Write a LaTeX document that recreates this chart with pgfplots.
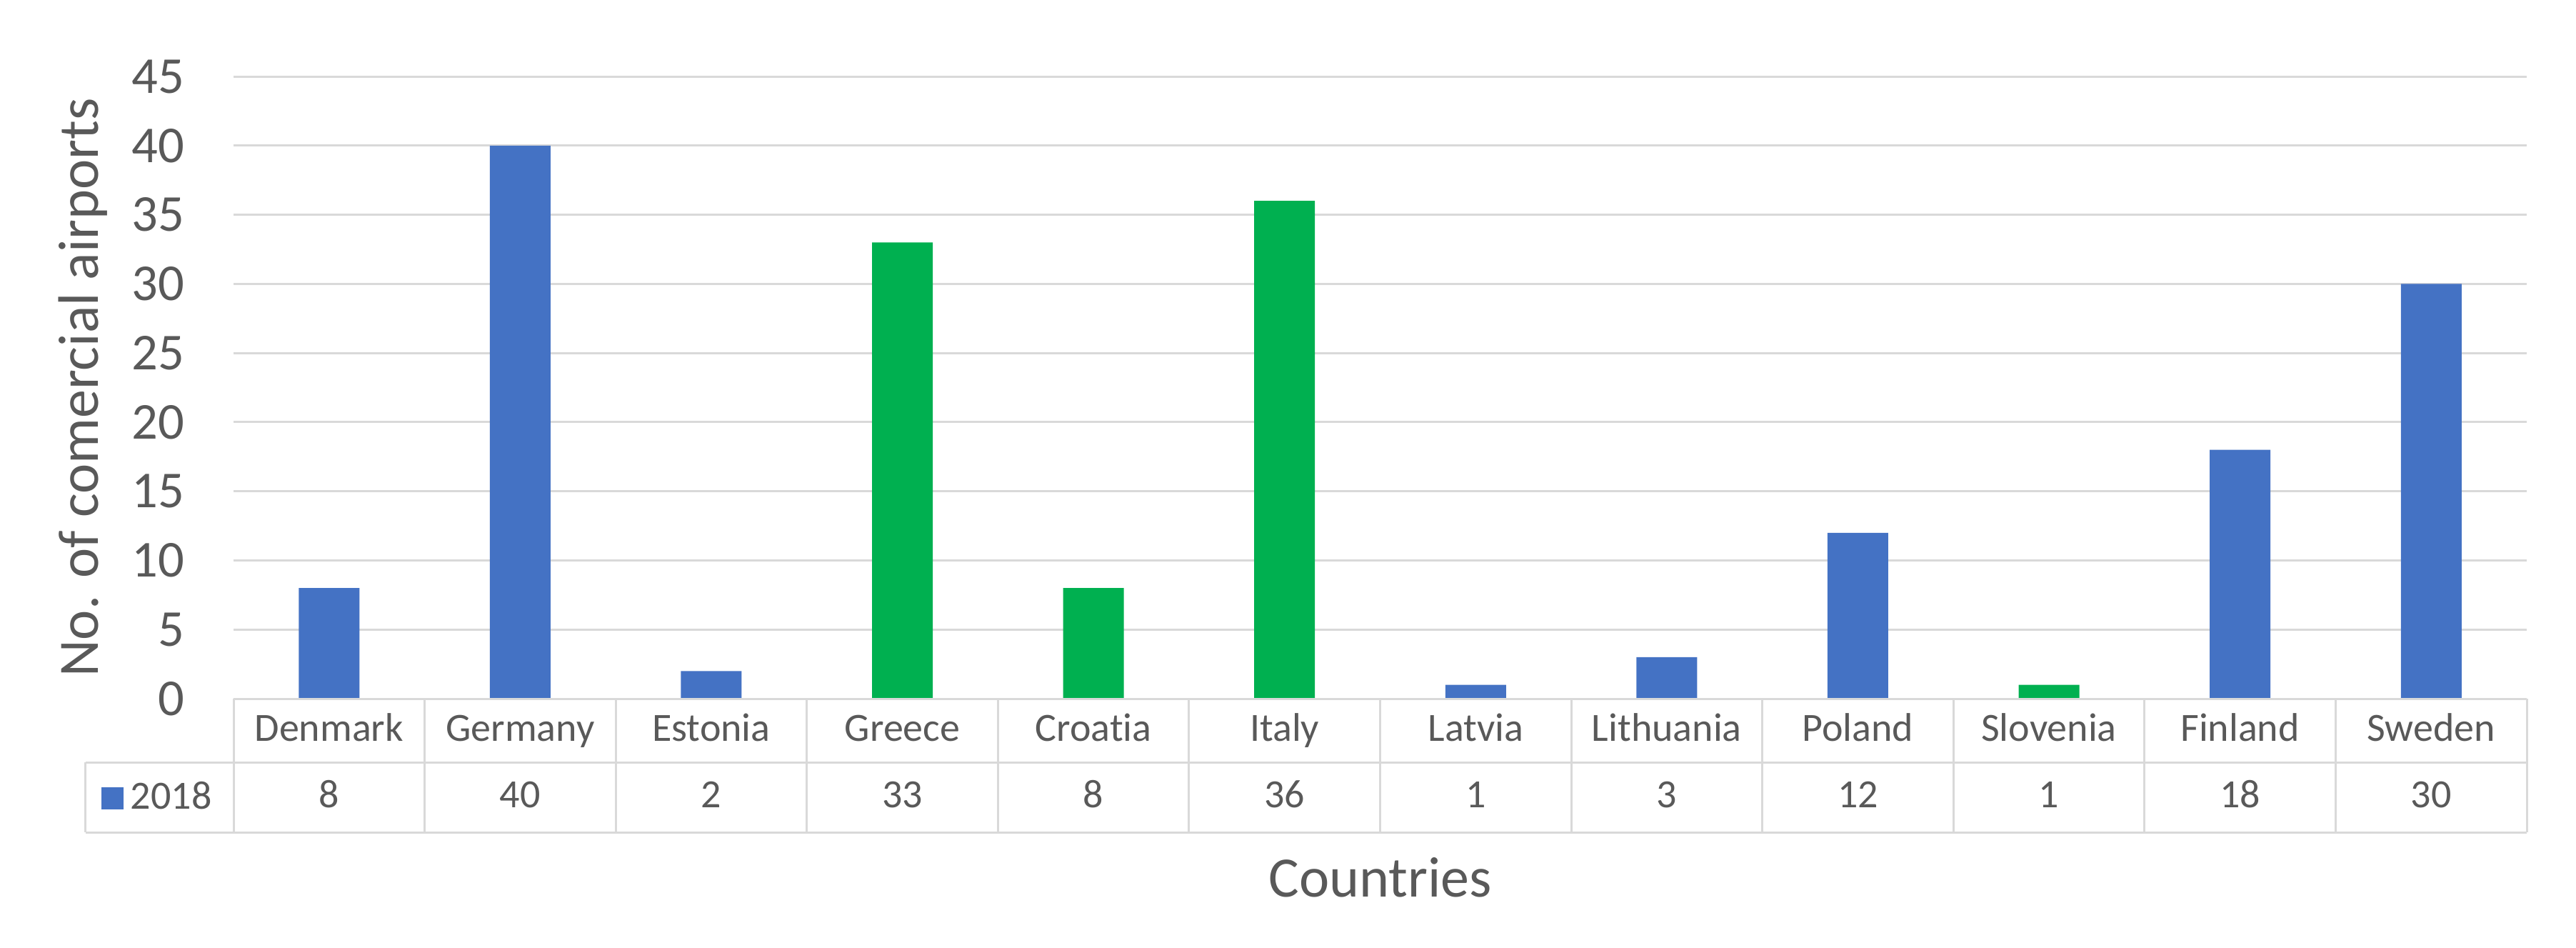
\documentclass[border=0pt]{standalone}
\usepackage{fontspec}
\setmainfont{Carlito}[Ligatures=NoCommon]
\usepackage{pgfplots}
\pgfplotsset{compat=1.18}
\definecolor{barblue}{HTML}{4472C4}
\definecolor{bargreen}{HTML}{00B050}
\definecolor{gridgray}{HTML}{D9D9D9}
\definecolor{txtgray}{HTML}{595959}
\begin{document}
\begin{tikzpicture}
\useasboundingbox (-65.4pt,-69.6pt) rectangle (656pt,195.6pt);
\begin{axis}[
  at={(0,0)}, anchor=south west,
  scale only axis, width=642.2pt, height=174.2pt,
  xmin=-0.5, xmax=11.5, ymin=0, ymax=45,
  ybar, bar width=17pt, bar shift=0pt,
  ytick={0,5,...,45},
  ymajorgrids, grid style={gridgray, line width=0.6pt},
  xtick={0,...,11},
  xticklabels={Denmark,Germany,Estonia,Greece,Croatia,Italy,Latvia,Lithuania,Poland,Slovenia,Finland,Sweden},
  extra x ticks={0,...,11},
  extra x tick labels={8,40,2,33,8,36,1,3,12,1,18,30},
  extra x tick style={grid=none, xticklabel style={yshift=-18.6pt}},
  axis line style={draw=none}, tick style={draw=none}, major tick length=0pt,
  clip=false,
  /pgf/number format/assume math mode=true,
  tick label style={text=txtgray},
  yticklabel style={font=\fontsize{14.5}{17}\selectfont, anchor=east, xshift=-10.2pt},
  xticklabel style={font=\fontsize{11.2}{13}\selectfont, anchor=base, yshift=-11.8pt},
  ylabel={No. of comercial airports},
  xlabel={Countries},
  every axis y label/.style={at={([xshift=-37.8pt]axis description cs:0,0.5)}, rotate=90, anchor=base, font=\fontsize{16}{19}\selectfont, text=txtgray},
  every axis x label/.style={at={([yshift=-55.4pt]axis description cs:0.5,0)}, anchor=base, font=\fontsize{16}{19}\selectfont, text=txtgray},
  legend style={at={([xshift=-37pt,yshift=-27.8pt]axis description cs:0,0)}, anchor=west, draw=none, fill=none, inner sep=0pt, outer sep=0pt, font=\fontsize{11.2}{13}\selectfont, text=txtgray},
  legend image code/.code={\fill[#1] (0pt,-3.1pt) rectangle (6.2pt,3.1pt);},
]
\addplot[fill=barblue, draw=none] coordinates {(0,8) (1,40) (2,2) (6,1) (7,3) (8,12) (10,18) (11,30)};
\addlegendentry{2018}
\addplot[fill=bargreen, draw=none, forget plot] coordinates {(3,33) (4,8) (5,36) (9,1)};
\end{axis}
\begin{scope}[gridgray, line width=0.6pt]
\draw (0,0) -- (642.2pt,0);
\draw (-41.4pt,-17.8pt) -- (642.2pt,-17.8pt);
\draw (-41.4pt,-37.4pt) -- (642.2pt,-37.4pt);
\draw (-41.4pt,-17.8pt) -- (-41.4pt,-37.4pt);
\foreach \i in {0,...,12} {\draw (\i*53.5167pt,0) -- (\i*53.5167pt,-37.4pt);}
\end{scope}
\end{tikzpicture}
\end{document}
